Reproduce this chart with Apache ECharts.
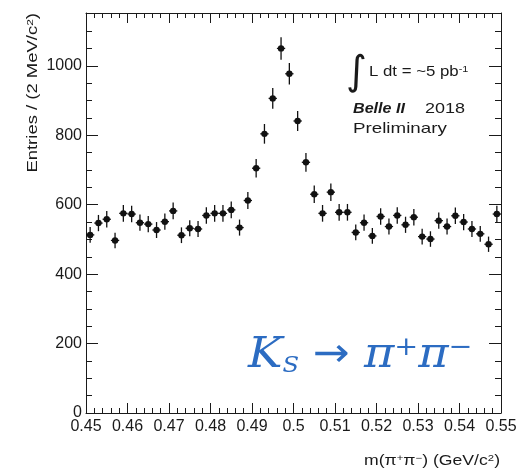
<!DOCTYPE html>
<html>
<head>
<meta charset="utf-8">
<script src="https://cdn.jsdelivr.net/npm/echarts@6/dist/echarts.min.js"></script>
<style>
  html, body { margin: 0; padding: 0; background: #fff; }
  #chart { width: 525px; height: 471px; }
</style>
</head>
<body>
<div id="chart"></div>
<script>
// pi+pi- invariant mass, 2 MeV bins (bin centres in GeV/c^2)
const binCenters = [
  0.451, 0.453, 0.455, 0.457, 0.459, 0.461, 0.463, 0.465, 0.467, 0.469,
  0.471, 0.473, 0.475, 0.477, 0.479, 0.481, 0.483, 0.485, 0.487, 0.489,
  0.491, 0.493, 0.495, 0.497, 0.499, 0.501, 0.503, 0.505, 0.507, 0.509,
  0.511, 0.513, 0.515, 0.517, 0.519, 0.521, 0.523, 0.525, 0.527, 0.529,
  0.531, 0.533, 0.535, 0.537, 0.539, 0.541, 0.543, 0.545, 0.547, 0.549
];
const entries = [
  513, 547, 558, 497, 575, 573, 548, 544, 527, 551,
  582, 512, 532, 530, 569, 575, 575, 585, 534, 612,
  705, 804, 906, 1050, 977, 841, 722, 630, 575, 636,
  578, 578, 520, 548, 510, 566, 537, 569, 542, 564,
  508, 501, 554, 537, 568, 550, 530, 516, 486, 573
];
const binHalfWidth = 0.001;
const xTicks = ['0.45','0.46','0.47','0.48','0.49','0.5','0.51','0.52','0.53','0.54','0.55'];

const points = binCenters.map((x, i) => [x, entries[i], Math.sqrt(entries[i])]);

const FONT = 'Liberation Sans, Arial, Helvetica, sans-serif';
const INK = '#1a1a1a';
const BLUE = '#2c6cc2';

const frameX = {
  type: 'value', min: 0.45, max: 0.55, interval: 0.01,
  axisLine: { show: true, onZero: false, lineStyle: { color: INK, width: 1 } },
  axisTick: { show: true, inside: true, length: 10, lineStyle: { color: INK } },
  minorTick: { show: true, splitNumber: 5, length: 5, lineStyle: { color: INK } },
  splitLine: { show: false }, minorSplitLine: { show: false }
};
const frameY = {
  type: 'value', min: 0, max: 1152, interval: 200,
  axisLine: { show: true, onZero: false, lineStyle: { color: INK, width: 1 } },
  axisTick: { show: true, inside: true, length: 12, lineStyle: { color: INK } },
  minorTick: { show: true, splitNumber: 4, length: 6, lineStyle: { color: INK } },
  splitLine: { show: false }, minorSplitLine: { show: false }
};

const chart = echarts.init(document.getElementById('chart'), null, { renderer: 'canvas' });
chart.setOption({
  animation: false,
  backgroundColor: '#fff',
  grid: { left: 86, right: 24, top: 13, bottom: 58, containLabel: false },
  xAxis: [
    Object.assign({}, frameX, {
      position: 'bottom',
      axisLabel: {
        show: true, margin: 6, color: INK, fontFamily: FONT, fontSize: 16,
        formatter: v => {
          const idx = Math.round((v - 0.45) / 0.01);
          return xTicks[idx] !== undefined ? xTicks[idx] : '';
        }
      }
    }),
    Object.assign({}, frameX, { position: 'top', axisLabel: { show: false } })
  ],
  yAxis: [
    Object.assign({}, frameY, {
      position: 'left',
      axisLabel: {
        show: true, margin: 4, color: INK, fontFamily: FONT, fontSize: 16,
        showMaxLabel: false,
        formatter: v => (v % 200 === 0 ? String(v) : '')
      }
    }),
    Object.assign({}, frameY, { position: 'right', axisLabel: { show: false } })
  ],
  series: [{
    type: 'custom',
    xAxisIndex: 0, yAxisIndex: 0,
    data: points,
    renderItem: (params, api) => {
      const x = api.value(0), y = api.value(1), e = api.value(2);
      const c = api.coord([x, y]);
      const hi = api.coord([x, y + e]);
      const lo = api.coord([x, y - e]);
      const l = api.coord([x - binHalfWidth, y]);
      const r = api.coord([x + binHalfWidth, y]);
      const ls = { stroke: '#111', lineWidth: 1.3 };
      return {
        type: 'group',
        children: [
          { type: 'line', shape: { x1: c[0], y1: hi[1], x2: c[0], y2: lo[1] }, style: ls },
          { type: 'line', shape: { x1: l[0], y1: c[1], x2: r[0], y2: c[1] }, style: ls },
          { type: 'circle', shape: { cx: c[0], cy: c[1], r: 3.2 }, style: { fill: '#111' } }
        ]
      };
    }
  }],
  graphic: [
    {
      type: 'text', x: 33, y: 13, rotation: Math.PI / 2, scaleX: 1.32,
      style: {
        text: 'Entries / (2 MeV/c{s|2})',
        textAlign: 'right', textVerticalAlign: 'middle',
        fontFamily: FONT, fontSize: 14, fill: INK,
        rich: { s: { fontSize: 9, verticalAlign: 'top', fill: INK, fontFamily: FONT } }
      }
    },
    {
      type: 'text', x: 500, y: 461, scaleX: 1.26,
      style: {
        text: 'm(π{s|+}π{s|−}) (GeV/c{s|2})',
        textAlign: 'right', textVerticalAlign: 'middle',
        fontFamily: FONT, fontSize: 14, fill: INK,
        rich: { s: { fontSize: 9, verticalAlign: 'top', fill: INK, fontFamily: FONT } }
      }
    },
    {
      type: 'text', x: 346, y: 74,
      style: { text: '∫', textVerticalAlign: 'middle', fontFamily: 'DejaVu Sans', fontSize: 40, fill: INK }
    },
    {
      type: 'text', x: 369, y: 72, scaleX: 1.2,
      style: {
        text: 'L dt = ~5 pb{s|-1}', textVerticalAlign: 'middle',
        fontFamily: FONT, fontSize: 14, fill: INK,
        rich: { s: { fontSize: 9, verticalAlign: 'top', fill: INK, fontFamily: FONT } }
      }
    },
    {
      type: 'text', x: 353, y: 109, scaleX: 1.15,
      style: {
        text: 'Belle II', textVerticalAlign: 'middle',
        fontFamily: FONT, fontSize: 14, fontWeight: 'bold', fontStyle: 'italic', fill: INK
      }
    },
    {
      type: 'text', x: 425, y: 109, scaleX: 1.2,
      style: { text: '2018', textVerticalAlign: 'middle', fontFamily: FONT, fontSize: 15, fill: INK }
    },
    {
      type: 'text', x: 353, y: 129, scaleX: 1.25,
      style: { text: 'Preliminary', textVerticalAlign: 'middle', fontFamily: FONT, fontSize: 15, fill: INK }
    },
    {
      type: 'text', x: 248, y: 356, scaleX: 1.1,
      style: {
        text: '{k|K}{sub|S}{a| → }{k|π}{sup|+}{k|π}{sup|−}',
        textVerticalAlign: 'middle',
        rich: {
          k: { fontFamily: 'DejaVu Serif', fontStyle: 'italic', fontSize: 42, fill: BLUE },
          sub: { fontFamily: 'DejaVu Serif', fontStyle: 'italic', fontSize: 22, fill: BLUE, verticalAlign: 'bottom', padding: [14, 0, 0, 0] },
          sup: { fontFamily: 'DejaVu Serif', fontSize: 26, fill: BLUE, verticalAlign: 'top', padding: [0, 0, 16, 0] },
          a: { fontFamily: 'DejaVu Sans', fontSize: 40, fill: BLUE }
        }
      }
    }
  ]
});
</script>
</body>
</html>
